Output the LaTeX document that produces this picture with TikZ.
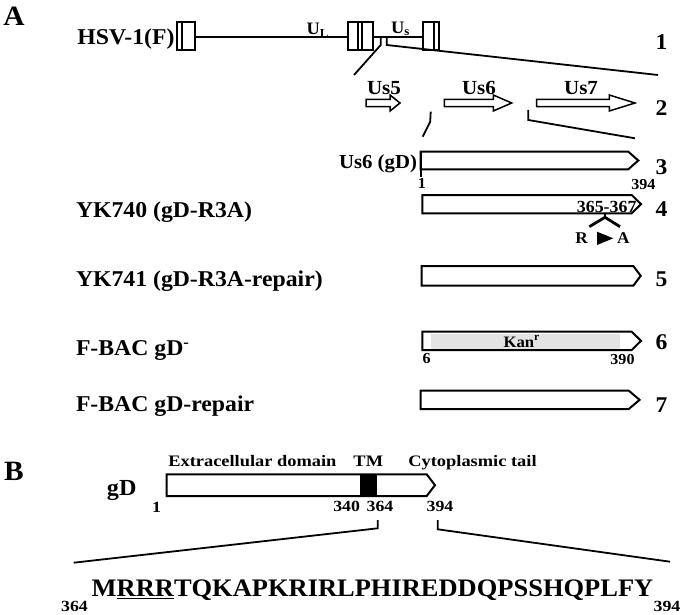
\documentclass[tikz,border=0pt]{standalone}
\usepackage{fontspec}
\setmainfont{Liberation Serif}[FakeStretch=1.05]
\newfontfamily\wideserif{Liberation Serif}[FakeStretch=1.15]
\newcommand{\fsz}[1]{\fontsize{#1}{#1}\selectfont}
\definecolor{kangray}{gray}{0.89}
\newcommand{\genebox}[5]{\draw[gene] (#1,#2) -- (#3,#2) -- (#5,{(#2+#4)/2}) -- (#3,#4) -- (#1,#4) -- cycle;}
\newcommand{\orfarrow}[3]{\draw[orf] (#1,99.3) -- (#2,99.3) -- (#2,95) -- (#3,103) -- (#2,111) -- (#2,106.7) -- (#1,106.7) -- cycle;}
\begin{document}
\begin{tikzpicture}[x=1pt,y=-1pt,line width=1.8pt,line join=miter,
  every node/.style={inner sep=0pt,outer sep=0pt},
  lbl/.style={anchor=base west,font=\bfseries\fsz{22.6}},
  rnum/.style={font=\bfseries\fsz{22.5}},
  snum/.style={font=\bfseries\fsz{15.3}},
  bnum/.style={font=\wideserif\bfseries\fsz{15.5}},
  blbl/.style={anchor=base,font=\wideserif\bfseries\fsz{16}},
  panel/.style={font=\bfseries\fsz{28}},
  gene/.style={draw,line width=2pt,fill=white},
  orf/.style={draw,line width=1.5pt,fill=white},
  orflbl/.style={anchor=base,font=\bfseries\fsz{20}},
  zoomline/.style={line width=1.8pt},
  thick3/.style={line width=2.8pt}]
\useasboundingbox (0,0) rectangle (680,615);

% panel letters
\node[panel] (pA) at (14,16) {A};
\node[panel] (pB) at (14,471.5) {B};

% ---------- row 1: HSV-1(F) genome
\node[lbl,anchor=base east] (hsv) at (174.5,45) {HSV-1(F)};
\draw (195,36.7) -- (347.7,36.7);
\draw (372.7,36.7) -- (422.7,36.7);
\draw (176.7,22) rectangle (195,50); \draw (181.7,22) -- (181.7,50);
\draw (347.7,22) rectangle (372.7,50); \draw (358.3,22) -- (358.3,50); \draw (362.3,22) -- (362.3,50);
\draw (422.7,22) rectangle (439.3,50); \draw (434,22) -- (434,50);
\node[anchor=base west,font=\bfseries\fsz{17.5}] (UL) at (306.7,35) {U\textsubscript{L}};
\node[anchor=base west,font=\bfseries\fsz{17.5}] (US) at (391,33.3) {U\textsubscript{s}};
\coordinate (z1a) at (354,75);
\coordinate (z1b) at (658,75);
\draw[zoomline] (380.7,36.7) -- (380.7,45) -- (z1a);
\draw[zoomline] (386.7,36.7) -- (386.7,45) -- (z1b);
\node[rnum] (n1) at (661.5,42) {1};

% ---------- row 2: Us5 Us6 Us7
\orfarrow{366}{390}{400}
\orfarrow{444.3}{493.3}{511.7}
\orfarrow{536.7}{609.3}{635}
\node[orflbl] (us5) at (384,95) {Us5};
\node[orflbl] (us6) at (479,95) {Us6};
\node[orflbl] (us7) at (581,95) {Us7};
\node[rnum] (n2) at (661.5,108) {2};
\coordinate (z2a) at (422.7,136.7);
\coordinate (z2b) at (635,138.3);
\draw[zoomline] (430.7,111.7) -- (430.2,121.7) -- (z2a);
\draw[zoomline] (528.3,110) -- (528.3,120) -- (z2b);

% ---------- row 3: Us6 (gD)
\node[anchor=base east,font=\bfseries\fsz{19.8}] (us6gd) at (417,168.3) {Us6 (gD)};
\genebox{420.7}{151.7}{628.3}{169.3}{638.3}
\draw[line width=2.3pt] (420.7,150.7) -- (420.7,176.7);
\node[snum] (r3s) at (422,183) {1};
\node[snum] (r3e) at (643.3,185) {394};
\node[rnum] (n3) at (661.5,167) {3};

% ---------- row 4: YK740
\node[lbl] (yk740) at (76,217.3) {YK740 (gD-R3A)};
\genebox{422.3}{195}{631.7}{213.3}{641}
\node[anchor=base,font=\bfseries\fsz{17}] (mut) at (606.7,212.5) {365-367};
\draw[thick3] (605,213.3) -- (605,217.3);
\draw[thick3] (589.3,226.7) -- (605,217.3) -- (620,226.7);
\node[anchor=base,font=\bfseries\fsz{16.4}] (rr) at (581.7,243.3) {R};
\node[anchor=base,font=\bfseries\fsz{16.4}] (aa) at (623.3,243.3) {A};
\fill (597,231.7) -- (613.3,238.3) -- (597,245) -- cycle;
\node[rnum] (n4) at (661.5,209) {4};

% ---------- row 5: YK741
\node[lbl] (yk741) at (76,286.7) {YK741 (gD-R3A-repair)};
\genebox{421.7}{266}{633.3}{285.7}{640.7}
\node[rnum] (n5) at (661.5,279.5) {5};

% ---------- row 6: F-BAC gD-
\node[lbl] (fbac) at (76,355) {F-BAC gD\textsuperscript{-}};
\genebox{422.3}{331.7}{631.7}{350}{641}
\fill[kangray] (431,334) rectangle (620,349.3);
\node[font=\bfseries\fsz{15.9}] (kan) at (521.7,341.5) {Kan\textsuperscript{r}};
\node[snum] (r6s) at (426.7,359) {6};
\node[snum] (r6e) at (622.5,359) {390};
\node[rnum] (n6) at (661.5,342.5) {6};

% ---------- row 7: F-BAC gD-repair
\node[lbl] (fbacr) at (76,411.7) {F-BAC gD-repair};
\genebox{420.6}{390.7}{628.8}{409}{639.6}
\node[rnum] (n7) at (661.5,405) {7};

% ---------- panel B
\node[anchor=base,font=\bfseries\fsz{23}] (gd) at (121.7,495) {gD};
\genebox{166.7}{474.3}{426.7}{496}{435}
\filldraw[line width=1.2pt] (361,474.3) rectangle (376,496);
\node[blbl,anchor=base west] (ecd) at (168.3,466.7) {Extracellular domain};
\node[blbl] (tm) at (368.3,466.7) {TM};
\node[blbl] (cyt) at (472.5,466.7) {Cytoplasmic tail};
\node[bnum] (b1) at (156.7,507.5) {1};
\node[bnum] (b340) at (346.7,506.5) {340};
\node[bnum] (b364) at (380,506.5) {364};
\node[bnum] (b394) at (440,506.5) {394};
\coordinate (z3a) at (73.7,562.7);
\coordinate (z3b) at (670,561.7);
\draw[zoomline] (377.7,520) -- (377.7,528.3) -- (z3a);
\draw[zoomline] (437.7,520) -- (437.7,529.3) -- (z3b);
\node[anchor=base west,font=\bfseries\fsz{25.2}] (seq) at (91.7,596.7) {M\underline{RRR}TQKAPKRIRLPHIREDDQPSSHQPLFY};
\node[bnum] (s364) at (74.5,606) {364};
\node[bnum] (s394) at (667,606) {394};
\end{tikzpicture}
\end{document}
